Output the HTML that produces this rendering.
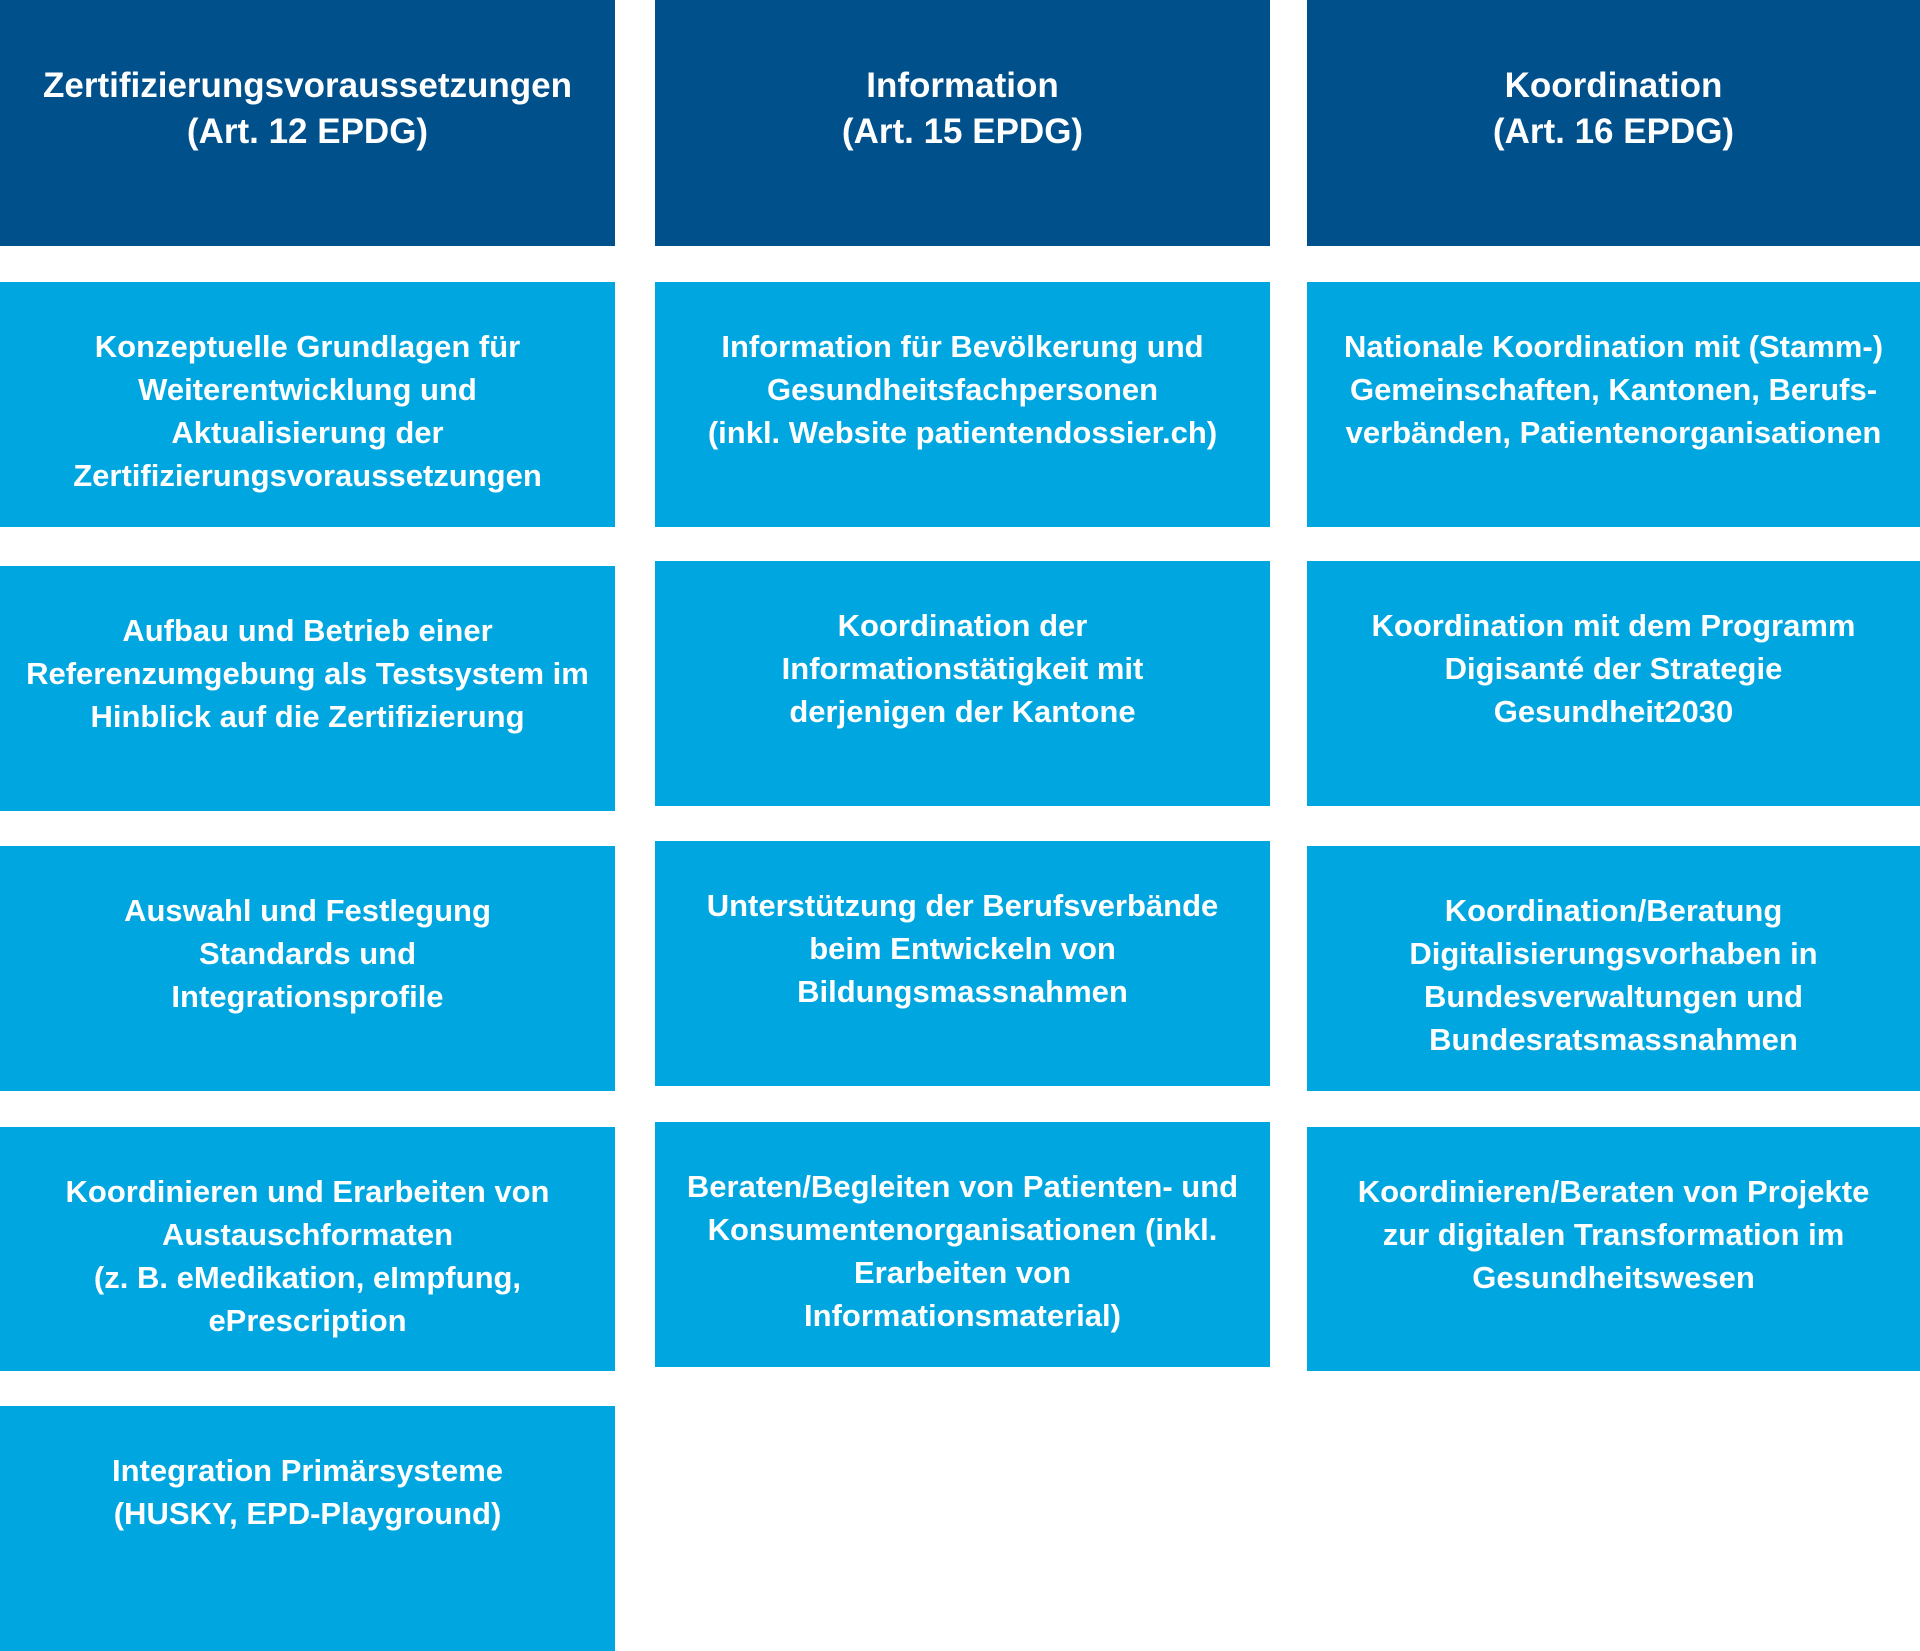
<!DOCTYPE html>
<html><head><meta charset="utf-8"><style>
html,body{margin:0;padding:0;background:#fff;}
body{width:1920px;height:1651px;position:relative;overflow:hidden;font-family:"Liberation Sans",sans-serif;}
.b{position:absolute;background:#00A6DF;color:#fff;text-align:center;box-sizing:border-box;padding-top:43px;font-size:31px;font-weight:bold;line-height:43px;}
.h{position:absolute;background:#00508C;color:#fff;text-align:center;box-sizing:border-box;padding-top:63px;font-size:35px;font-weight:bold;line-height:46px;}
</style></head><body>
<div class="h" style="left:0;top:0;width:615px;height:246px">Zertifizierungsvoraussetzungen<br>(Art. 12 EPDG)</div>
<div class="h" style="left:655px;top:0;width:615px;height:246px">Information<br>(Art. 15 EPDG)</div>
<div class="h" style="left:1307px;top:0;width:613px;height:246px">Koordination<br>(Art. 16 EPDG)</div>

<div class="b" style="left:0;top:282px;width:615px;height:245px">Konzeptuelle Grundlagen für<br>Weiterentwicklung und<br>Aktualisierung der<br>Zertifizierungsvoraussetzungen</div>
<div class="b" style="left:0;top:566px;width:615px;height:245px">Aufbau und Betrieb einer<br>Referenzumgebung als Testsystem im<br>Hinblick auf die Zertifizierung</div>
<div class="b" style="left:0;top:846px;width:615px;height:245px">Auswahl und Festlegung<br>Standards und<br>Integrationsprofile</div>
<div class="b" style="left:0;top:1127px;width:615px;height:244px">Koordinieren und Erarbeiten von<br>Austauschformaten<br>(z. B. eMedikation, eImpfung,<br>ePrescription</div>
<div class="b" style="left:0;top:1406px;width:615px;height:245px">Integration Primärsysteme<br>(HUSKY, EPD-Playground)</div>

<div class="b" style="left:655px;top:282px;width:615px;height:245px">Information für Bevölkerung und<br>Gesundheitsfachpersonen<br>(inkl. Website patientendossier.ch)</div>
<div class="b" style="left:655px;top:561px;width:615px;height:245px">Koordination der<br>Informationstätigkeit mit<br>derjenigen der Kantone</div>
<div class="b" style="left:655px;top:841px;width:615px;height:245px">Unterstützung der Berufsverbände<br>beim Entwickeln von<br>Bildungsmassnahmen</div>
<div class="b" style="left:655px;top:1122px;width:615px;height:245px">Beraten/Begleiten von Patienten- und<br>Konsumentenorganisationen (inkl.<br>Erarbeiten von<br>Informationsmaterial)</div>

<div class="b" style="left:1307px;top:282px;width:613px;height:245px">Nationale Koordination mit (Stamm-)<br>Gemeinschaften, Kantonen, Berufs-<br>verbänden, Patientenorganisationen</div>
<div class="b" style="left:1307px;top:561px;width:613px;height:245px">Koordination mit dem Programm<br>Digisanté der Strategie<br>Gesundheit2030</div>
<div class="b" style="left:1307px;top:846px;width:613px;height:245px">Koordination/Beratung<br>Digitalisierungsvorhaben in<br>Bundesverwaltungen und<br>Bundesratsmassnahmen</div>
<div class="b" style="left:1307px;top:1127px;width:613px;height:244px">Koordinieren/Beraten von Projekte<br>zur digitalen Transformation im<br>Gesundheitswesen</div>
</body></html>
